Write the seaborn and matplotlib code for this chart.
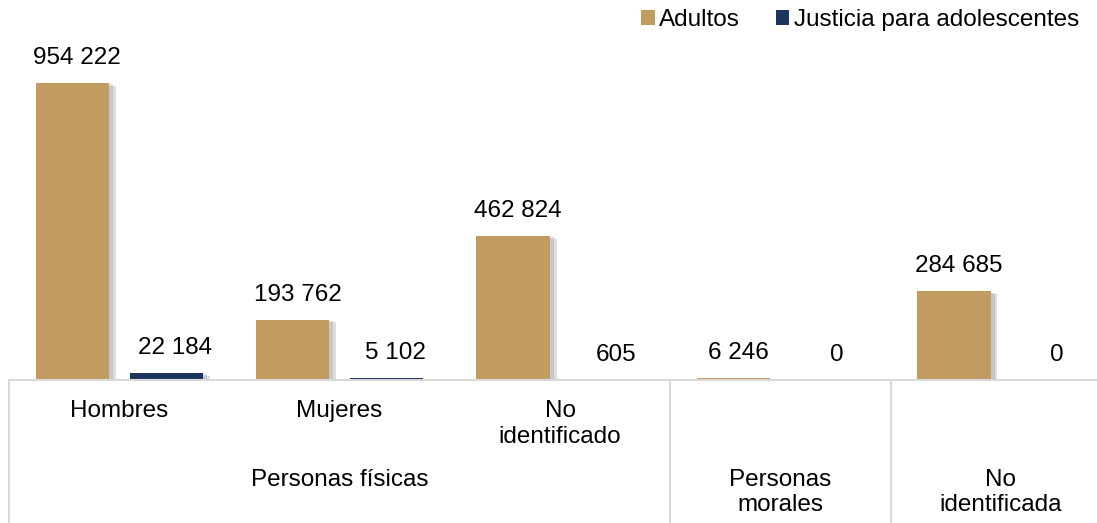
import matplotlib
matplotlib.use("Agg")
import matplotlib.pyplot as plt
import matplotlib.patheffects as pe
from matplotlib.patches import Patch
import pandas as pd
import seaborn as sns

categorias = ["Hombres", "Mujeres", "No\nidentificado", "Personas morales", "No identificada"]
etiquetas_x = ["Hombres", "Mujeres", "No\nidentificado", "", ""]
grupos = ["Personas físicas", "Personas\nmorales", "No\nidentificada"]
grupo_rangos = [(0, 2), (3, 3), (4, 4)]
adultos = [954222, 193762, 462824, 6246, 284685]
adolescentes = [22184, 5102, 605, 0, 0]
series = ["Adultos", "Justicia para adolescentes"]
colores = ["#C29B61", "#1C355E"]

df = pd.DataFrame({
    "categoria": categorias * 2,
    "serie": [series[0]] * 5 + [series[1]] * 5,
    "valor": adultos + adolescentes,
})

sns.set_style("white")
plt.rcParams["font.family"] = ["Liberation Sans", "DejaVu Sans"]
plt.rcParams["text.color"] = "black"
fs = 17.5

W, H = 1097, 523
fig = plt.figure(figsize=(W / 100, H / 100), dpi=100)
base_px = 380
top_px = 40
ax = fig.add_axes([9 / W, (H - base_px) / H, 1095 / W, (base_px - top_px) / H])

sns.barplot(data=df, x="categoria", y="valor", hue="serie", palette=colores,
            width=0.853, gap=0.22, legend=False, ax=ax, saturation=1,
            edgecolor="none", linewidth=0)

sombra = [pe.SimplePatchShadow(offset=(5, -2), shadow_rgbFace="#a0a0a0", alpha=0.35),
          pe.SimplePatchShadow(offset=(3, -1), shadow_rgbFace="#a0a0a0", alpha=0.35),
          pe.Normal()]
for p in ax.patches:
    p.set_path_effects(sombra)

ax.set_ylim(0, 954222 * (base_px - top_px) / 297)
ax.set_xlim(-0.5, 4.468)
ax.set_yticks([])
ax.set_ylabel("")
ax.set_xlabel("")
sns.despine(ax=ax, left=True, bottom=True, top=True, right=True)

# etiquetas de datos
for i, cont in enumerate(ax.containers):
    dx = 5 if i == 0 else 9
    for bar, v in zip(cont, adultos if i == 0 else adolescentes):
        ax.annotate(f"{v:,}".replace(",", " "),
                    (bar.get_x() + bar.get_width() / 2, bar.get_height()),
                    xytext=(dx, 25), textcoords="offset pixels",
                    ha="center", va="center", fontsize=fs, color="black")

# eje de categorías
ax.set_xticks(range(5))
ax.set_xticklabels(etiquetas_x, fontsize=fs, va="top", color="black")
ax.tick_params(axis="x", length=0, pad=14.5)

trans = ax.get_xaxis_transform()
alto_ax = base_px - top_px
linea = "#D9D9D9"
ax.plot([-0.5, 4.6], [0, 0], transform=trans, color=linea, lw=1.5, clip_on=False)
for x in [-0.5, 2.5, 3.5]:
    ax.plot([x, x], [0, -(H - base_px) / alto_ax], transform=trans,
            color=linea, lw=1.5, clip_on=False)

for g, (a, b) in zip(grupos, grupo_rangos):
    ax.text((a + b) / 2, -(469 - base_px) / alto_ax, g, transform=trans,
            ha="center", va="top", fontsize=fs, color="black")

handles = [Patch(facecolor=c, edgecolor="none") for c in colores]
fig.legend(handles, series, loc="upper right", bbox_to_anchor=(1079 / W, 1 - 9 / H),
           ncol=2, frameon=False, fontsize=fs, handlelength=0.55, handleheight=0.55,
           handletextpad=0.2, columnspacing=1.45, borderaxespad=0, borderpad=0)

fig.savefig("out.png", dpi=100)
